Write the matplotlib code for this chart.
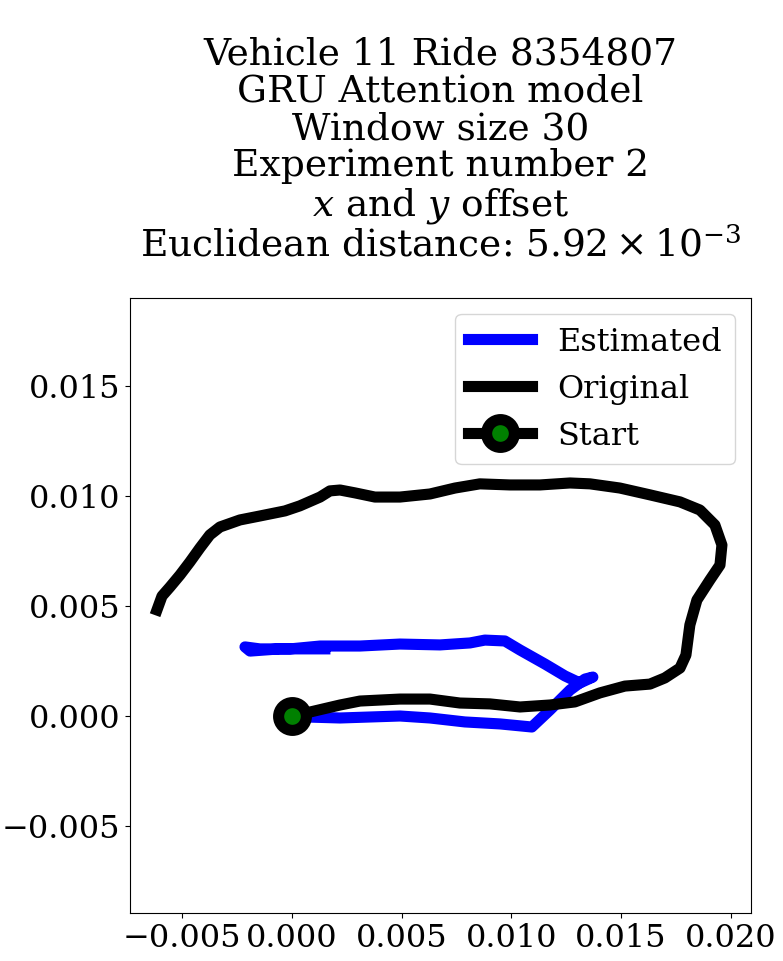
import matplotlib
matplotlib.use("Agg")
import matplotlib.pyplot as plt

plt.rcParams['font.family'] = ['DejaVu Serif']
plt.rcParams['mathtext.fontset'] = 'dejavuserif'

orig_x = [0, 0.00082, 0.00219, 0.00310, 0.00492, 0.00629, 0.00765, 0.00902, 0.01039, 0.01175, 0.01289,
          0.01403, 0.01517, 0.01631, 0.01699, 0.01768, 0.01795, 0.01813, 0.01845, 0.01904, 0.01950,
          0.01959, 0.01927, 0.01859, 0.01768, 0.01631, 0.01494, 0.01358, 0.01267, 0.01130, 0.00993,
          0.00856, 0.00743, 0.00629, 0.00492, 0.00378, 0.00287, 0.00219, 0.00173, 0.00128, 0.00036,
          -0.00032, -0.00146, -0.00237, -0.00328, -0.00374, -0.00419, -0.00465, -0.00510, -0.00556,
          -0.00592, -0.00615]
orig_y = [0, 0.00018, 0.00050, 0.00068, 0.00077, 0.00077, 0.00059, 0.00055, 0.00041, 0.00050, 0.00064,
          0.00105, 0.00136, 0.00145, 0.00173, 0.00218, 0.00277, 0.00414, 0.00527, 0.00618, 0.00686,
          0.00777, 0.00868, 0.00936, 0.00973, 0.01005, 0.01036, 0.01055, 0.01059, 0.01050, 0.01050,
          0.01055, 0.01036, 0.01009, 0.00995, 0.00995, 0.01014, 0.01027, 0.01023, 0.00995, 0.00955,
          0.00932, 0.00909, 0.00891, 0.00859, 0.00823, 0.00764, 0.00700, 0.00641, 0.00586,
          0.00545, 0.00482]

est_x = [0, 0.00082, 0.00219, 0.00492, 0.00629, 0.00788, 0.00948, 0.01093, 0.01175, 0.01267, 0.01335,
         0.01371, 0.01312, 0.01244, 0.01153, 0.01039, 0.00970, 0.00879, 0.00811, 0.00674, 0.00492,
         0.00310, 0.00128, -0.00009, -0.00146, -0.00214, -0.00191, -0.00055, 0.00150]
est_y = [0, -0.00005, -0.00009, 0, -0.00009, -0.00027, -0.00036, -0.00050, 0.00027, 0.00118, 0.00168,
         0.00177, 0.00150, 0.00182, 0.00236, 0.00300, 0.00341, 0.00345, 0.00332, 0.00323, 0.00327,
         0.00318, 0.00318, 0.00305, 0.00305, 0.00314, 0.00295, 0.00305, 0.00305]

fig = plt.figure(figsize=(7.83, 9.61), dpi=100)
ax = fig.add_axes([0.166, 0.05, 0.793, 0.64])
ax.plot(est_x, est_y, color='blue', lw=8, label='Estimated')
ax.plot(orig_x, orig_y, color='black', lw=8, label='Original')
ax.plot([orig_x[0]], [orig_y[0]], color='black', lw=8, marker='o', markersize=20,
        markerfacecolor='green', markeredgecolor='black', markeredgewidth=8, label='Start')
ax.set_xlim(-0.00738, 0.02091)
ax.set_ylim(-0.00895, 0.0190)
ax.set_xticks([-0.005, 0.0, 0.005, 0.010, 0.015, 0.020])
ax.set_yticks([-0.005, 0.0, 0.005, 0.010, 0.015])
ax.tick_params(labelsize=23)
ax.legend(fontsize=23, loc='upper right')
ax.set_title("Vehicle 11 Ride 8354807\nGRU Attention model\nWindow size 30\nExperiment number 2\n"
             r"$x$ and $y$ offset" "\n" r"Euclidean distance: $5.92\times 10^{-3}$",
             fontsize=27, pad=30, linespacing=1.05)
fig.savefig("out.png", dpi=100)
